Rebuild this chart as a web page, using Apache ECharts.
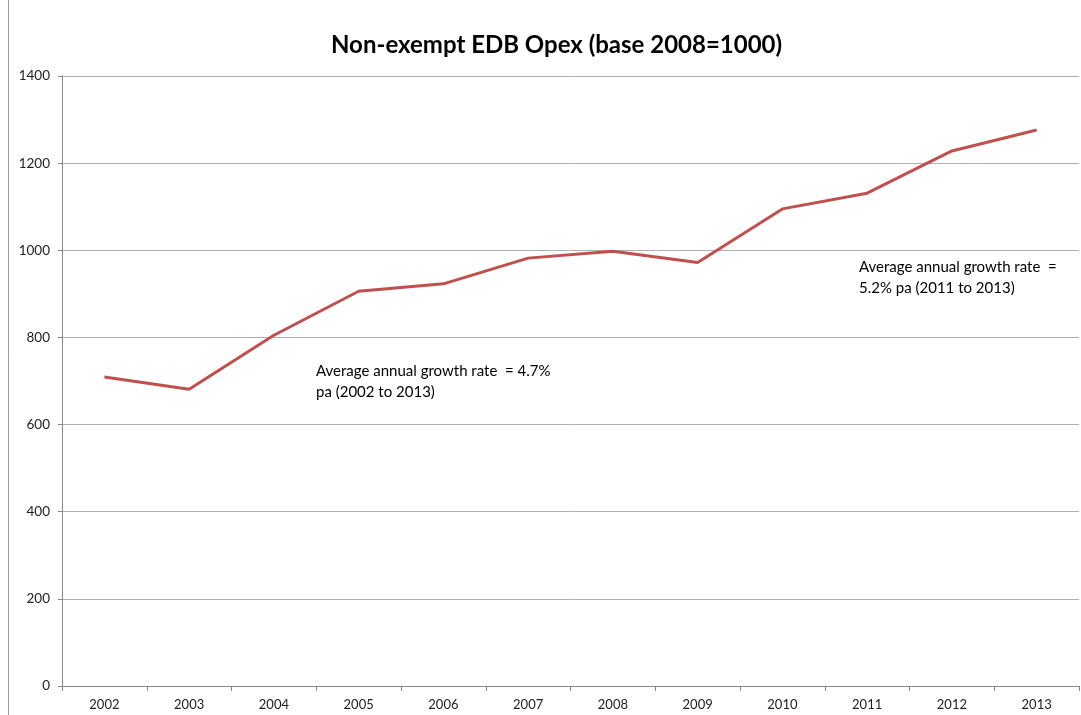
<!DOCTYPE html>
<html><head><meta charset="utf-8">
<script src="https://cdn.jsdelivr.net/npm/echarts@6/dist/echarts.min.js"></script>
<style>html,body{margin:0;padding:0;background:#fff}#c{width:1081px;height:715px}</style>
</head><body><div id="c"></div>
<script>
const years = ['2002','2003','2004','2005','2006','2007','2008','2009','2010','2011','2012','2013'];
const opex = [709, 681, 805, 906, 923, 982, 998, 972, 1095, 1131, 1228, 1276];
const yTicks = {min: 0, max: 1400, interval: 200};
const titleText = 'Non-exempt EDB Opex (base 2008=1000)';
const note1 = ['Average annual growth rate  = 4.7%', 'pa (2002 to 2013)'];
const note2 = ['Average annual growth rate  =', '5.2% pa (2011 to 2013)'];

const font = 'Lato, "Open Sans", sans-serif';
const chart = echarts.init(document.getElementById('c'), null, {renderer: 'canvas'});
chart.setOption({
  backgroundColor: '#fff',
  animation: false,
  title: {text: titleText, left: 326, top: 28,
    textStyle: {fontFamily: font, fontWeight: 'bold', fontSize: 24, color: '#000'}},
  grid: {left: 62, right: 2, top: 76, bottom: 29, containLabel: false},
  xAxis: {type: 'category', data: years, boundaryGap: true,
    axisLine: {lineStyle: {color: '#888', width: 1}},
    axisTick: {show: true, length: 5, lineStyle: {color: '#888'}},
    axisLabel: {fontFamily: font, fontSize: 13, color: '#222', margin: 12}},
  yAxis: {type: 'value', min: yTicks.min, max: yTicks.max, interval: yTicks.interval,
    axisLine: {show: true, lineStyle: {color: '#888', width: 1}},
    axisTick: {show: true, length: 4, lineStyle: {color: '#888'}},
    splitLine: {lineStyle: {color: '#b0b0b0', width: 1}},
    axisLabel: {fontFamily: font, fontSize: 13.5, color: '#222', margin: 12, formatter: v => String(v)}},
  series: [{type: 'line', data: opex, symbol: 'none',
    lineStyle: {color: '#C0504D', width: 3}, itemStyle: {color: '#C0504D'}}],
  graphic: [
    {type: 'line', shape: {x1: 8.5, y1: 0, x2: 8.5, y2: 715}, style: {stroke: '#999', lineWidth: 1}},
    {type: 'text', left: 316, top: 361, style: {text: note1.join('\n'), fontFamily: font, fontSize: 15, lineHeight: 21, fill: '#000'}},
    {type: 'text', left: 859, top: 257, style: {text: note2.join('\n'), fontFamily: font, fontSize: 15, lineHeight: 21, fill: '#000'}}
  ]
});
</script></body></html>
